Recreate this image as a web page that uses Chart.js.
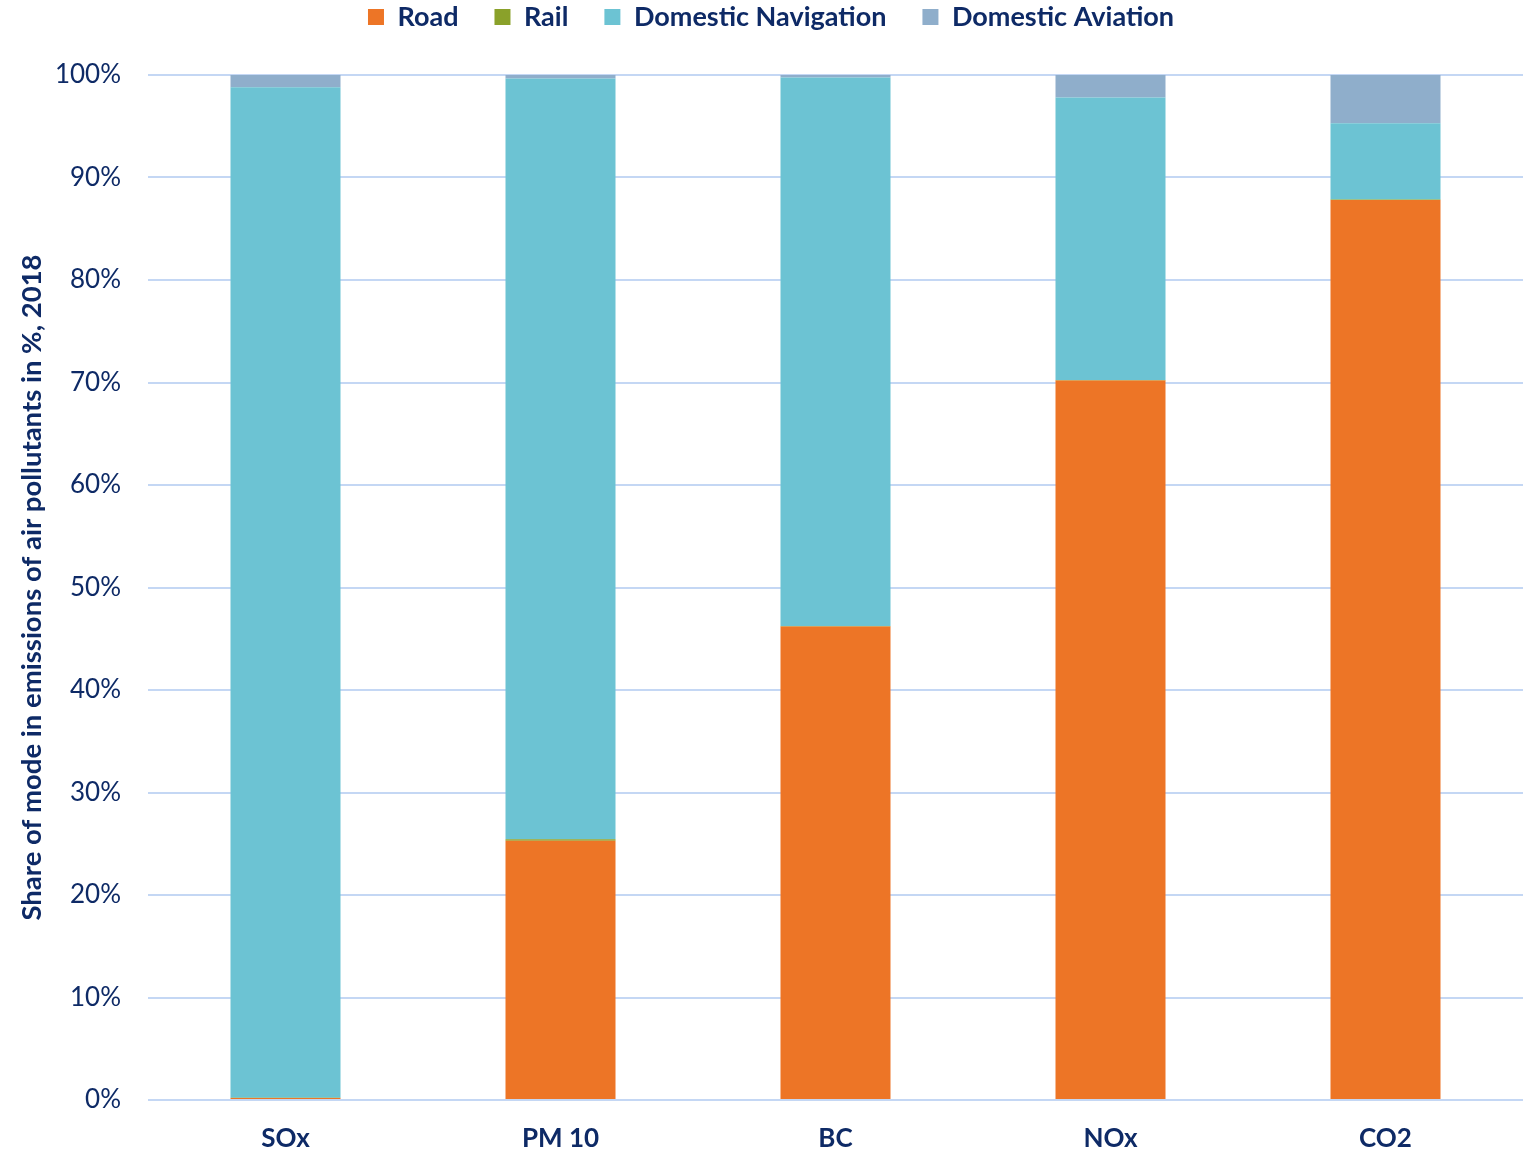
<!DOCTYPE html>
<html>
<head>
<meta charset="utf-8">
<script src="https://cdn.jsdelivr.net/npm/chart.js@4.4.1/dist/chart.umd.min.js"></script>
<style>
  html, body { margin: 0; padding: 0; background: #ffffff; }
  #wrap { width: 1524px; height: 1152px; position: relative; }
</style>
</head>
<body>
<div id="wrap"><canvas id="chart" width="1524" height="1152"></canvas></div>
<script>
// Share of transport mode in emissions of air pollutants, 2018 (%)
const pollutants = ['SOx', 'PM 10', 'BC', 'NOx', 'CO2'];
const road       = [0.2, 25.3, 46.2, 70.2, 87.8];
const rail       = [0.02, 0.15, 0.05, 0.05, 0.05];
const navigation = [98.58, 74.2, 53.5, 27.55, 7.45];
const aviation   = [1.2, 0.35, 0.25, 2.2, 4.7];
const yTicks     = [0, 10, 20, 30, 40, 50, 60, 70, 80, 90, 100];

const NAVY = '#0E2A66';
const FONT = 'Lato, "Open Sans", sans-serif';
const LEGEND_FONT = 27;
const LEGEND_PAD = 36;

// Legend sits in a short band above the plot; keep wide gaps between its items
const legendBand = {
  id: 'legendBand',
  afterInit(chart) {
    const legend = chart.legend;
    const fit = legend.fit.bind(legend);
    legend.fit = function () { fit(); this.height = 75; };
  },
  afterLayout(chart) {
    const legend = chart.legend;
    legend.top = 17 - LEGEND_FONT / 2 - LEGEND_PAD;
    legend.bottom = legend.top + 75;
    legend.left = 9;
    legend.right = chart.width + 9;
  }
};

new Chart(document.getElementById('chart'), {
  type: 'bar',
  data: {
    labels: pollutants,
    datasets: [
      { label: 'Road', data: road, backgroundColor: '#ED7526' },
      { label: 'Rail', data: rail, backgroundColor: '#8AA12A' },
      { label: 'Domestic Navigation', data: navigation, backgroundColor: '#6CC3D3' },
      { label: 'Domestic Aviation', data: aviation, backgroundColor: '#8FAECB' }
    ]
  },
  options: {
    responsive: false,
    animation: false,
    layout: { padding: { left: 0, right: 1, top: 0, bottom: 0 } },
    datasets: {
      bar: { categoryPercentage: 1.0, barPercentage: 0.4, borderWidth: 0 }
    },
    plugins: {
      legend: {
        position: 'top',
        align: 'center',
        labels: {
          boxWidth: 16,
          boxHeight: 16,
          padding: LEGEND_PAD,
          color: NAVY,
          font: { family: FONT, size: LEGEND_FONT, weight: 'bold' }
        }
      },
      tooltip: { enabled: false }
    },
    scales: {
      x: {
        stacked: true,
        grid: { display: false, drawTicks: false },
        border: { display: false },
        ticks: {
          padding: 23,
          color: NAVY,
          font: { family: FONT, size: 26, weight: 'bold' }
        },
        afterFit(scale) { scale.height = 52; }
      },
      y: {
        stacked: true,
        min: 0,
        max: 100,
        afterBuildTicks(scale) { scale.ticks = yTicks.map(v => ({ value: v })); },
        grid: { color: '#C4D7F4', lineWidth: 2, drawTicks: false },
        border: { display: false },
        ticks: {
          padding: 27,
          color: NAVY,
          font: { family: FONT, size: 26 },
          callback: v => v + '%'
        },
        title: {
          display: true,
          text: 'Share of mode in emissions of air pollutants in %, 2018',
          color: NAVY,
          font: { family: FONT, size: 27.5, weight: 'bold', lineHeight: 1.2 },
          padding: { top: 15.5, bottom: 0 }
        },
        afterFit(scale) { scale.width = 148; }
      }
    }
  },
  plugins: [legendBand]
});
</script>
</body>
</html>
